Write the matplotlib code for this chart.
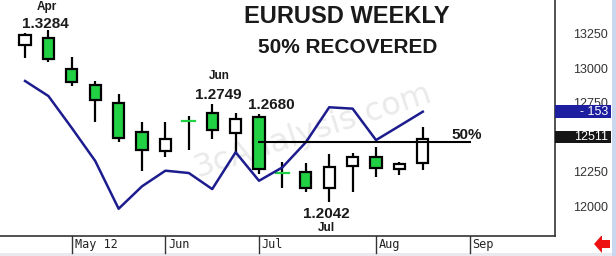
import matplotlib.pyplot as plt
from matplotlib.patches import Rectangle, Polygon

plt.rcParams['font.family'] = ['Liberation Sans', 'DejaVu Sans']

# weekly EURUSD candles (price x 10000)
opens = [13178, 13226, 13004, 12889, 12757, 12551, 12412, 12631, 12684,
         12540, 12660, 12251, 12258, 12142, 12304, 12366, 12282, 12327]
highs = [13267, 13284, 13093, 12918, 12824, 12620, 12619, 12667, 12749,
         12684, 12680, 12330, 12323, 12388, 12395, 12443, 12335, 12587]
lows = [13084, 13057, 12884, 12624, 12475, 12270, 12371, 12419, 12496,
        12395, 12244, 12142, 12118, 12042, 12118, 12226, 12238, 12275]
closes = [13250, 13074, 12908, 12780, 12504, 12421, 12499, 12631, 12564,
          12643, 12282, 12251, 12142, 12298, 12371, 12287, 12318, 12496]
# blue overlay line
overlay = [12918, 12809, 12578, 12340, 11995, 12157, 12270, 12253, 12137,
           12403, 12197, 12294, 12475, 12728, 12718, 12491, 12593, 12696]

month_pos = [2, 6, 10, 15, 19]
month_labels = ["May 12", "Jun", "Jul", "Aug", "Sep"]
price_ticks = [13250, 13000, 12750, 12250, 12000]
level_50 = 12475
last_price = 12511
overlay_label = "- 153"

xmin, xmax = -1.07, 22.65
ymin, ymax = 11798, 13503

fig = plt.figure(figsize=(6.16, 2.56), dpi=100)
ax = fig.add_axes([0, 20 / 256, 555 / 616, 236 / 256])
ax.set_xlim(xmin, xmax)
ax.set_ylim(ymin, ymax)
ax.set_xticks([])
ax.set_yticks([])
for s in ["top", "left"]:
    ax.spines[s].set_visible(False)
for s in ["right", "bottom"]:
    ax.spines[s].set_color("#333333")
    ax.spines[s].set_linewidth(1.2)

# watermark
ax.text(12.3, 12560, "3cAnalysis.com", fontsize=23, color="#eaeaea",
        rotation=18, ha="center", va="center", zorder=0,
        family="DejaVu Sans")

green = "#22d044"
w = 0.48
for i in range(len(opens)):
    o, h, l, c = opens[i], highs[i], lows[i], closes[i]
    ax.plot([i, i], [l, h], color="black", lw=1.6, zorder=2,
            solid_capstyle="butt")
    if o == c:
        ax.plot([i - 0.28, i + 0.28], [o, o], color=green, lw=1.6, zorder=3)
    else:
        fc = "white" if c > o else green
        ax.add_patch(Rectangle((i - w / 2, min(o, c)), w, abs(c - o),
                               facecolor=fc, edgecolor="black", lw=1.6,
                               zorder=3))

ax.plot(range(len(overlay)), overlay, color="#1c1c8e", lw=1.8, zorder=4)
ax.plot([10, 19], [level_50, level_50], color="black", lw=1.5, zorder=5)

bold = dict(fontweight="bold", color="#1a1a1a", ha="center", va="center")
ax.text(13.76, 13382, "EURUSD WEEKLY", fontsize=17, **bold)
ax.text(13.8, 13163, "50% RECOVERED", fontsize=15, **bold)
ax.text(0.93, 13449, "Apr", fontsize=8.5, **bold)
ax.text(0.89, 13329, "1.3284", fontsize=11, **bold)
ax.text(8.31, 12954, "Jun", fontsize=8.5, **bold)
ax.text(8.28, 12819, "1.2749", fontsize=11, **bold)
ax.text(10.53, 12741, "1.2680", fontsize=11, **bold)
ax.text(12.89, 11957, "1.2042", fontsize=11, **bold)
ax.text(12.9, 11856, "Jul", fontsize=8.5, **bold)
ax.text(18.89, 12530, "50%", fontsize=11, **bold)

# right price panel
axr = fig.add_axes([555 / 616, 20 / 256, 57 / 616, 236 / 256])
axr.set_xlim(0, 1)
axr.set_ylim(ymin, ymax)
axr.axis("off")
for p in price_ticks:
    axr.text(0.93, p, str(p), fontsize=9, color="#333333",
             ha="right", va="center")
axr.add_patch(Rectangle((0, overlay[-1] - 46), 0.98, 92,
                        facecolor="#1e1ea0", edgecolor="none", zorder=3))
axr.text(0.93, overlay[-1], overlay_label, fontsize=9, color="white",
         ha="right", va="center", zorder=4)
axr.add_patch(Rectangle((0, last_price - 42), 0.98, 84,
                        facecolor="#151515", edgecolor="none", zorder=3))
axr.text(0.93, last_price, str(last_price), fontsize=9, color="white",
         ha="right", va="center", zorder=4)

# date strip
axd = fig.add_axes([0, 0, 1, 20 / 256])
axd.set_xlim(xmin, xmin + (xmax - xmin) * 616 / 555)
axd.set_ylim(0, 20)
axd.axis("off")
axd.add_patch(Rectangle((0, 0), 1, 3 / 20, transform=axd.transAxes,
                        facecolor="#e8eaf0", edgecolor="none"))
for pos, lab in zip(month_pos, month_labels):
    axd.plot([pos, pos], [3, 20], color="#333333", lw=1.0)
    axd.text(pos + 0.12, 11.5, lab, fontsize=8.6, family="DejaVu Sans Mono",
             color="#222222", ha="left", va="center")
axd.add_patch(Rectangle((0, 2), 15 / 616, 18, transform=axd.get_xaxis_transform(),
                        facecolor="white", edgecolor="#333333", lw=1.0))
axd.add_patch(Polygon([(594 / 616, 0.6), (602 / 616, 1.05), (602 / 616, 0.8),
                       (610 / 616, 0.8), (610 / 616, 0.4), (602 / 616, 0.4),
                       (602 / 616, 0.15)], closed=True,
                      transform=axd.transAxes, facecolor="#ee1111",
                      edgecolor="none"))

# light blue frame at right edge
fig.patches.append(Rectangle((612 / 616, 0), 4 / 616, 1,
                             transform=fig.transFigure, facecolor="#c9d8ee",
                             edgecolor="none"))

fig.savefig("out.png", dpi=100)
